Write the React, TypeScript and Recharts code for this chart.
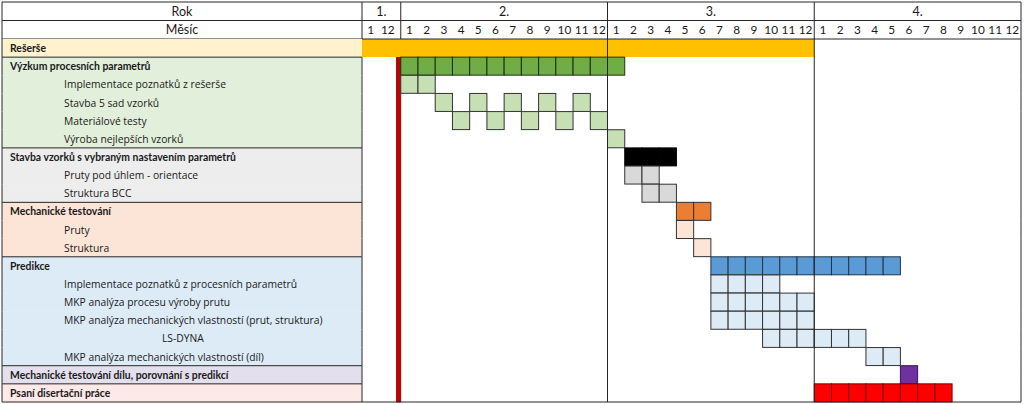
import { Bar, BarChart, ReferenceArea, ReferenceLine, XAxis, YAxis } from 'recharts'

// activity rows (top to bottom)
const tasks = [
  'Rešerše',
  'Výzkum procesních parametrů',
  'Implementace poznatků z rešerše',
  'Stavba 5 sad vzorků',
  'Materiálové testy',
  'Výroba nejlepších vzorků',
  'Stavba vzorků s vybraným nastavením parametrů',
  'Pruty pod úhlem - orientace',
  'Struktura BCC',
  'Mechanické testování',
  'Pruty',
  'Struktura',
  'Predikce',
  'Implementace poznatků z procesních parametrů',
  'MKP analýza procesu výroby prutu',
  'MKP analýza mechanických vlastností (prut, struktura)',
  'LS-DYNA',
  'MKP analýza mechanických vlastností (díl)',
  'Mechanické testování dílu, porovnání s predikcí',
  'Psaní disertační práce',
]
const taskIndent = [0, 0, 1, 1, 1, 1, 0, 1, 1, 0, 1, 1, 0, 1, 1, 1, 2, 1, 0, 0]
const taskGroup = [0, 1, 1, 1, 1, 1, 2, 2, 2, 3, 3, 3, 4, 4, 4, 4, 4, 4, 5, 6]
const groupBg = ['#FFF2CC', '#E2EFDA', '#EDEDED', '#FCE4D6', '#DDEBF7', '#E4DFEC', '#FDE9E7']

// scheduled months, "year.month" or "year.month-year.month"
const taskRuns = [
  ['1.1-3.12'],
  ['2.1-3.1'],
  ['2.1-2.2'],
  ['2.3', '2.5', '2.7', '2.9', '2.11'],
  ['2.4', '2.6', '2.8', '2.10', '2.12'],
  ['3.1'],
  ['3.2-3.4'],
  ['3.2-3.3'],
  ['3.3-3.4'],
  ['3.5-3.6'],
  ['3.5'],
  ['3.6'],
  ['3.7-4.5'],
  ['3.7-3.10'],
  ['3.7-3.12'],
  ['3.7-3.12'],
  ['3.10-4.3'],
  ['4.4-4.5'],
  ['4.6'],
  ['4.1-4.8'],
]
const taskFill = [
  '#FFC000', '#70AD47', '#C6E0B4', '#C6E0B4', '#C6E0B4', '#C6E0B4',
  '#000000', '#D9D9D9', '#D9D9D9',
  '#ED7D31', '#FCE4D6', '#FCE4D6',
  '#5B9BD5', '#DDEBF7', '#DDEBF7', '#DDEBF7', '#DDEBF7', '#DDEBF7',
  '#7030A0', '#FF0000',
]
const taskStroke = [
  'none', '#1d2e14', '#333333', '#333333', '#333333', '#333333',
  '#000000', '#333333', '#333333',
  '#333333', '#333333', '#333333',
  '#22354a', '#333333', '#333333', '#333333', '#333333', '#333333',
  '#3a1458', '#7a0000',
]

const years = ['1.', '2.', '3.', '4.']
const yearMonths = [
  [1, 12],
  [1, 2, 3, 4, 5, 6, 7, 8, 9, 10, 11, 12],
  [1, 2, 3, 4, 5, 6, 7, 8, 9, 10, 11, 12],
  [1, 2, 3, 4, 5, 6, 7, 8, 9, 10, 11, 12],
]

const SEP = 0.25 // narrow red column after year 1
const yearStart: number[] = []
const yearEnd: number[] = []
{
  let pos = 0
  yearMonths.forEach((ms, i) => {
    yearStart.push(pos)
    pos += ms.length
    if (i === 0) pos += SEP
    yearEnd.push(pos)
  })
}
const DOMAIN_MAX = yearEnd[yearEnd.length - 1]

const monthTicks: number[] = []
const monthLabels: string[] = []
const monthYear: number[] = []
const monthIsYearStart: boolean[] = []
yearMonths.forEach((ms, yi) =>
  ms.forEach((m, j) => {
    monthTicks.push(yearStart[yi] + j + 0.5)
    monthLabels.push(String(m))
    monthYear.push(yi)
    monthIsYearStart.push(j === 0)
  }),
)

function expandRun(run: string): [number, number][] {
  const [a, b] = run.split('-')
  const [y0, m0] = a.split('.').map(Number)
  const [y1, m1] = (b ?? a).split('.').map(Number)
  const out: [number, number][] = []
  for (let y = y0; y <= y1; y++) {
    yearMonths[y - 1].forEach((m, j) => {
      if ((y > y0 || m >= m0) && (y < y1 || m <= m1)) {
        const c = yearStart[y - 1] + j
        out.push([c, c + 1])
      }
    })
  }
  return out
}

const data = tasks.map((task, idx) => {
  const cells = taskRuns[idx].flatMap(expandRun)
  const span = [Math.min(...cells.map((c) => c[0])), Math.max(...cells.map((c) => c[1]))]
  return { task, idx, span, cells }
})

const W = 1024
const H = 404
const M = { top: 2, right: 3, bottom: 2, left: 2 }
const LABEL_W = 360
const HEAD_H = 18.5
const PLOT_W = W - M.left - M.right - LABEL_W
const PX = PLOT_W / DOMAIN_MAX
const ROW_H = (H - M.top - M.bottom - 2 * HEAD_H) / tasks.length
const LINE = '#262626'
const FONT = 'Lato, "Open Sans", sans-serif'

function CellsShape(props: any) {
  const { x, y, width, height, payload } = props
  const i = payload.idx
  const [s, e] = payload.span
  const k = width / (e - s)
  if (taskStroke[i] === 'none') {
    return <rect x={x} y={y} width={width} height={height} fill={taskFill[i]} />
  }
  return (
    <g>
      {payload.cells.map(([c0, c1]: [number, number]) => (
        <rect
          key={c0}
          x={x + (c0 - s) * k}
          y={y}
          width={(c1 - c0) * k}
          height={height}
          fill={taskFill[i]}
          stroke={taskStroke[i]}
          strokeWidth={1}
        />
      ))}
    </g>
  )
}

function TaskTick(props: any) {
  const { x, y, payload } = props
  const i = tasks.indexOf(payload.value)
  const g = taskGroup[i]
  const first = i === 0 || taskGroup[i - 1] !== g
  const last = i === tasks.length - 1
  const top = y - ROW_H / 2
  const left = x - LABEL_W
  const right = x + PLOT_W
  const indent = [8, 62, 160][taskIndent[i]]
  return (
    <g>
      <rect x={left} y={top} width={LABEL_W} height={ROW_H + 0.5} fill={groupBg[g]} />
      <line x1={left} x2={left} y1={top} y2={top + ROW_H} stroke={LINE} />
      <line x1={right} x2={right} y1={top} y2={top + ROW_H} stroke={LINE} />
      {g > 0 && <line x1={x} x2={x} y1={top} y2={top + ROW_H} stroke={LINE} />}
      {first && i > 0 && <line x1={left} x2={x} y1={top} y2={top} stroke={LINE} />}
      {last && <line x1={left} x2={right} y1={top + ROW_H} y2={top + ROW_H} stroke={LINE} />}
      <text
        x={left + indent}
        y={y + 4}
        fontFamily={taskIndent[i] === 0 ? FONT : '"Open Sans", sans-serif'}
        fontWeight={taskIndent[i] === 0 ? 700 : 400}
        fontSize={taskIndent[i] === 0 ? 10.4 : 10.3}
        fill="#1a1a1a"
      >
        {payload.value}
      </text>
    </g>
  )
}

// two header rows (year, month) drawn from the month ticks
function HeaderTick(props: any) {
  const { x, y, payload } = props
  const i = monthTicks.indexOf(payload.value)
  const yi = monthYear[i]
  const cellLeft = x - PX / 2
  const yearW = (yearEnd[yi] - yearStart[yi]) * PX
  const top = y - 2 * HEAD_H
  const mid = y - HEAD_H
  const left = M.left
  const right = M.left + LABEL_W + PLOT_W
  return (
    <g>
      {i === 0 && (
        <g>
          <rect x={left} y={top} width={right - left} height={2 * HEAD_H} fill="#ffffff" />
          <line x1={left} x2={right} y1={top} y2={top} stroke={LINE} />
          <line x1={left} x2={right} y1={mid} y2={mid} stroke={LINE} />
          <line x1={left} x2={right} y1={y} y2={y} stroke={LINE} />
          <line x1={left} x2={left} y1={top} y2={y} stroke={LINE} />
          <line x1={right} x2={right} y1={top} y2={y} stroke={LINE} />
          <line x1={cellLeft} x2={cellLeft} y1={top} y2={y} stroke={LINE} />
          <text
            x={left + LABEL_W / 2}
            y={mid - 5}
            textAnchor="middle"
            fontFamily={FONT}
            fontSize={12.5}
            fill="#1a1a1a"
          >
            Rok
          </text>
          <text
            x={left + LABEL_W / 2}
            y={y - 5}
            textAnchor="middle"
            fontFamily={FONT}
            fontSize={12.5}
            fill="#1a1a1a"
          >
            Měsíc
          </text>
        </g>
      )}
      {monthIsYearStart[i] && (
        <g>
          {i > 0 && <line x1={cellLeft} x2={cellLeft} y1={top} y2={y} stroke={LINE} />}
          <text
            x={cellLeft + yearW / 2}
            y={mid - 5}
            textAnchor="middle"
            fontFamily={FONT}
            fontSize={12.5}
            fill="#1a1a1a"
          >
            {years[yi]}
          </text>
        </g>
      )}
      <text x={x} y={y - 5} textAnchor="middle" fontFamily={FONT} fontSize={11.8} fill="#1a1a1a">
        {monthLabels[i]}
      </text>
    </g>
  )
}

export default function App() {
  return (
    <div style={{ width: W, height: H, background: '#ffffff' }}>
      <style>{'body{margin:0}'}</style>
      <BarChart
        width={W}
        height={H}
        data={data}
        layout="vertical"
        margin={M}
        barCategoryGap={0}
        barGap={0}
      >
        <XAxis
          type="number"
          orientation="top"
          domain={[0, DOMAIN_MAX]}
          ticks={monthTicks}
          interval={0}
          height={2 * HEAD_H}
          tickSize={0}
          tickMargin={0}
          tickLine={false}
          axisLine={false}
          tick={<HeaderTick />}
        />
        <YAxis
          type="category"
          dataKey="task"
          width={LABEL_W}
          interval={0}
          tickSize={0}
          tickMargin={0}
          tickLine={false}
          axisLine={false}
          tick={<TaskTick />}
        />
        <ReferenceLine x={yearStart[2]} stroke={LINE} />
        <ReferenceLine x={yearStart[3]} stroke={LINE} />
        <Bar dataKey="span" isAnimationActive={false} shape={<CellsShape />} />
        <ReferenceArea
          x1={yearEnd[0] - SEP}
          x2={yearEnd[0]}
          fill="#C00000"
          fillOpacity={1}
          stroke="#7a0000"
          strokeWidth={0.8}
        />
      </BarChart>
    </div>
  )
}
